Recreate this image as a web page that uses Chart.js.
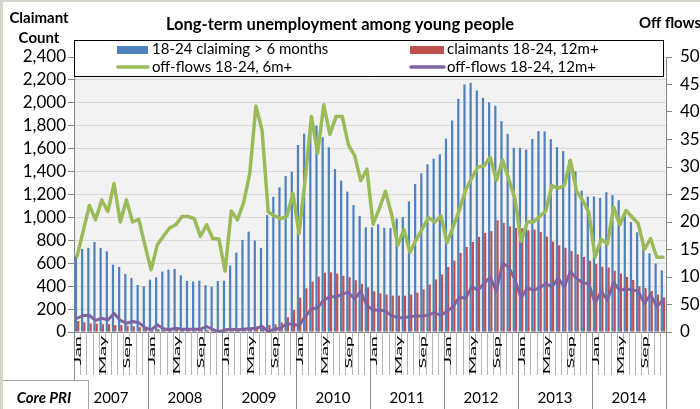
<!DOCTYPE html>
<html><head><meta charset="utf-8">
<script src="https://cdn.jsdelivr.net/npm/chart.js@4.4.0/dist/chart.umd.min.js"></script>
<style>
html,body{margin:0;padding:0;background:#fff;}
#wrap{position:relative;width:700px;height:409px;overflow:hidden;}
canvas{position:absolute;left:0;top:0;}
</style></head><body>
<div id="wrap"><canvas id="c" width="700" height="409"></canvas></div>
<script>
// ---- data ----
const years = ['2007','2008','2009','2010','2011','2012','2013','2014'];
const monthNames = ['Jan','Feb','Mar','Apr','May','Jun','Jul','Aug','Sep','Oct','Nov','Dec'];
const shownMonths = ['Jan','May','Sep'];
const seriesNames = ['18-24 claiming > 6 months','claimants 18-24, 12m+','off-flows 18-24, 6m+','off-flows 18-24, 12m+'];
const leftTicks = [0,200,400,600,800,1000,1200,1400,1600,1800,2000,2200,2400];
const rightTicks = [0,50,100,150,200,250,300,350,400,450,500];

const claiming6m = [
  667,725,734,786,734,704,588,568,507,472,410,399,
  457,477,527,544,550,495,445,440,448,408,396,445,
  448,580,693,803,876,798,734,1020,1180,1262,1361,1399,
  1632,1731,1765,1800,1700,1612,1422,1321,1225,1108,1012,913,
  914,940,910,907,990,1003,1140,1292,1385,1463,1513,1551,
  1688,1846,2035,2160,2175,2108,2044,2006,1974,1840,1729,1607,
  1607,1592,1685,1752,1750,1683,1613,1578,1500,1400,1234,1182,
  1182,1170,1220,1194,1150,1040,960,870,768,687,598,538
];
const claimants12m = [
  95,85,75,72,68,68,60,60,55,50,42,32,
  28,25,24,22,22,25,22,20,20,18,18,20,
  20,22,25,29,35,38,46,61,67,83,128,192,
  300,381,439,483,518,521,510,490,478,452,420,390,
  355,338,326,317,317,317,326,343,372,415,458,503,
  567,623,690,742,786,830,864,880,975,952,922,908,
  905,888,893,873,832,789,756,735,707,678,655,622,
  596,570,563,535,510,480,454,400,383,358,327,302
];
const offflows6m = [
  138,184,230,204,240,219,270,200,240,200,205,158,
  113,158,174,189,195,210,210,206,174,195,170,169,
  111,220,204,235,288,411,366,218,211,206,210,252,
  179,279,392,325,413,359,392,392,340,321,275,296,
  196,224,256,214,158,186,145,168,188,208,200,211,
  162,192,222,258,280,300,302,318,276,313,278,243,
  165,200,200,210,220,266,261,266,312,256,239,217,
  136,169,160,227,195,221,209,197,150,170,136,136
];
const offflows12m = [
  25,30,30,21,25,22,34,21,16,19,17,8,
  4,13,6,4,7,5,5,5,5,10,5,0,
  4,5,4,5,6,7,10,1,5,7,15,14,
  12,28,42,44,58,64,64,69,72,60,74,48,
  40,40,38,30,26,26,28,29,29,31,35,30,
  38,46,64,61,82,76,88,100,74,125,118,95,
  62,80,76,80,88,82,98,82,110,97,90,87,
  52,74,58,90,76,78,77,74,52,68,46,58
];

const labels = [];
years.forEach(y => monthNames.forEach(m => labels.push(m + ' ' + y)));

const C_BLUE='#4f81bd', C_RED='#c0504d', C_GREEN='#9bbb59', C_PURPLE='#8064a2';
const FONT='Lato, "Open Sans", sans-serif';
Chart.defaults.font.family = FONT;

const decor = {
  id:'decor',
  beforeDraw(chart){
    const {ctx, chartArea:a} = chart;
    ctx.save();
    ctx.fillStyle='#f2f2f2';
    ctx.fillRect(a.left, a.top, a.right-a.left, a.bottom-a.top);
    ctx.restore();
  },
  afterDraw(chart){
    const {ctx, chartArea:a, scales:{x}} = chart;
    const n = labels.length;
    const step = x.getPixelForValue(1) - x.getPixelForValue(0);
    ctx.save();
    // x axis line
    ctx.strokeStyle='#868686'; ctx.lineWidth=1;
    ctx.beginPath(); ctx.moveTo(a.left, Math.round(a.bottom)+0.5); ctx.lineTo(a.right, Math.round(a.bottom)+0.5); ctx.stroke();
    // separators
    for(let i=0;i<=n;i++){
      const px = Math.round(x.getPixelForValue(Math.min(i,n-1)) + (i<n ? -step/2 : step/2)) + 0.5;
      ctx.beginPath();
      if(i%12===0){ ctx.strokeStyle='#8a8a8a'; ctx.moveTo(px,a.bottom); ctx.lineTo(px,409); }
      else { ctx.strokeStyle='#b4b4b4'; ctx.moveTo(px,a.bottom); ctx.lineTo(px,a.bottom+43); }
      ctx.stroke();
    }
    // month labels
    ctx.fillStyle='#000';
    ctx.font='20px '+FONT;
    ctx.textAlign='right'; ctx.textBaseline='middle';
    for(let i=0;i<n;i++){
      const m = monthNames[i%12];
      if(!shownMonths.includes(m)) continue;
      ctx.save();
      ctx.translate(x.getPixelForValue(i)+0.5, a.bottom+4);
      ctx.rotate(-Math.PI/2);
      ctx.scale(1,0.52);
      ctx.fillText(m,0,0);
      ctx.restore();
    }
    // year labels
    ctx.font='15px '+FONT; ctx.textAlign='center'; ctx.textBaseline='alphabetic';
    years.forEach((y,k)=>{
      const c = (x.getPixelForValue(k*12) + x.getPixelForValue(k*12+11))/2;
      ctx.fillText(y, c, 403);
    });
    // Core PRI box
    ctx.fillStyle='#fff'; ctx.fillRect(0,380,88,29);
    ctx.strokeStyle='#a6a6a6'; ctx.strokeRect(0.5,380.5,88,30);
    ctx.fillStyle='#000'; ctx.font='italic bold 15px '+FONT;
    ctx.fillText('Core PRI', 44, 403);
    // frame
    ctx.fillStyle='#d6d2cc'; ctx.fillRect(0,0,700,2); ctx.fillRect(0,0,3,409);
    // titles
    ctx.fillStyle='#000'; ctx.textAlign='center';
    ctx.font='bold 16.5px '+FONT;
    ctx.fillText('Long-term unemployment among young people', 340, 30);
    ctx.font='bold 15px '+FONT;
    ctx.fillText('Claimant', 39, 23);
    ctx.fillText('Count', 39, 43);
    ctx.textAlign='left';
    ctx.fillText('Off flows', 639, 28);
    // legend box
    ctx.fillStyle='#fff'; ctx.fillRect(74,40,589,37);
    ctx.strokeStyle='#000'; ctx.lineWidth=1; ctx.strokeRect(74.5,40.5,589,36);
    ctx.font='15px '+FONT; ctx.textAlign='left'; ctx.textBaseline='alphabetic';
    const ds = chart.data.datasets;
    ctx.fillStyle=ds[0].backgroundColor; ctx.fillRect(117,46,31,8);
    ctx.fillStyle=ds[1].backgroundColor; ctx.fillRect(410,46,34,8);
    ctx.lineWidth=3.5; ctx.lineCap='round';
    ctx.strokeStyle=ds[2].borderColor; ctx.beginPath(); ctx.moveTo(118,67); ctx.lineTo(148,67); ctx.stroke();
    ctx.strokeStyle=ds[3].borderColor; ctx.beginPath(); ctx.moveTo(411,67); ctx.lineTo(444,67); ctx.stroke();
    ctx.fillStyle='#000';
    ctx.fillText(ds[0].label, 152, 54);
    ctx.fillText(ds[1].label, 447, 54);
    ctx.fillText(ds[2].label, 152, 72);
    ctx.fillText(ds[3].label, 447, 72);
    ctx.restore();
  }
};

new Chart(document.getElementById('c'), {
  data:{
    labels,
    datasets:[
      {type:'bar', label:seriesNames[0], data:claiming6m, backgroundColor:C_BLUE, yAxisID:'y', order:3, categoryPercentage:0.72, barPercentage:1.0},
      {type:'bar', label:seriesNames[1], data:claimants12m, backgroundColor:C_RED, yAxisID:'y', order:3, categoryPercentage:0.72, barPercentage:1.0},
      {type:'line', label:seriesNames[2], data:offflows6m, borderColor:C_GREEN, borderWidth:3.5, pointRadius:0, tension:0, yAxisID:'y2', order:1, borderJoinStyle:'round', borderCapStyle:'round'},
      {type:'line', label:seriesNames[3], data:offflows12m, borderColor:C_PURPLE, borderWidth:3, pointRadius:0, tension:0, yAxisID:'y2', order:2, borderJoinStyle:'round', borderCapStyle:'round'}
    ]
  },
  options:{
    responsive:false, animation:false, devicePixelRatio:1,
    layout:{padding:{top:57, bottom:77, left:0, right:0}},
    plugins:{legend:{display:false}, tooltip:{enabled:false}, title:{display:false}},
    scales:{
      x:{type:'category', display:false, offset:true},
      y:{position:'left', min:0, max:2400,
         afterBuildTicks:s=>{s.ticks = leftTicks.map(v=>({value:v}));},
         ticks:{stepSize:200, autoSkip:false, color:'#000', font:{size:17}, padding:2,
                callback:v=>v.toLocaleString('en-US')},
         grid:{color:'#d9d9d9', tickColor:'#868686', tickLength:6, lineWidth:1},
         border:{color:'#868686'},
         afterFit:s=>{s.width=74;}},
      y2:{position:'right', min:0, max:500,
         afterBuildTicks:s=>{s.ticks = rightTicks.map(v=>({value:v}));},
         ticks:{stepSize:50, autoSkip:false, color:'#000', font:{size:17}, padding:8},
         grid:{drawOnChartArea:false, tickColor:'#868686', tickLength:6},
         border:{color:'#868686'},
         afterFit:s=>{s.width=34;}}
    }
  },
  plugins:[decor]
});
</script>
</body></html>
